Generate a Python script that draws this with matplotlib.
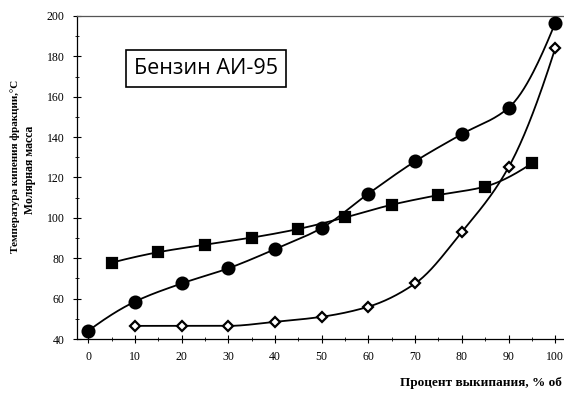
import numpy as np
import matplotlib.pyplot as plt
from matplotlib.ticker import MultipleLocator

# ── данные ────────────────────────────────────────────────
x_bp = [0, 10, 20, 30, 40, 50, 60, 70, 80, 90, 100]
t_bp = [44, 58.5, 67.5, 75, 84.5, 95, 112, 128, 141.5, 154.5, 196.5]

x_mm = [5, 15, 25, 35, 45, 55, 65, 75, 85, 95]
m_mm = [77.8, 83, 86.7, 90.2, 94.5, 100.2, 106.5, 111.3, 115.5, 127]

x_dm = [10, 20, 30, 40, 50, 60, 70, 80, 90, 100]
y_dm = [46.5, 46.5, 46.5, 48.5, 51, 56, 67.5, 93, 125, 184]

x_ticks = list(range(0, 101, 10))
y_ticks = list(range(40, 201, 20))

SERIF = ['Liberation Serif', 'DejaVu Serif']


def smooth(xs, ys, n=300):
    """Монотонный кубический (PCHIP) сплайн через точки — для плавной линии."""
    xs = np.asarray(xs, float)
    ys = np.asarray(ys, float)
    h = np.diff(xs)
    d = np.diff(ys) / h
    m = np.zeros_like(ys)
    for i in range(1, len(xs) - 1):
        if d[i - 1] * d[i] > 0:
            w1 = 2 * h[i] + h[i - 1]
            w2 = h[i] + 2 * h[i - 1]
            m[i] = (w1 + w2) / (w1 / d[i - 1] + w2 / d[i])
    m[0] = ((2 * h[0] + h[1]) * d[0] - h[0] * d[1]) / (h[0] + h[1])
    m[-1] = ((2 * h[-1] + h[-2]) * d[-1] - h[-1] * d[-2]) / (h[-1] + h[-2])
    gx = np.linspace(xs[0], xs[-1], n)
    j = np.clip(np.searchsorted(xs, gx) - 1, 0, len(xs) - 2)
    t = (gx - xs[j]) / h[j]
    h00 = 2 * t ** 3 - 3 * t ** 2 + 1
    h10 = t ** 3 - 2 * t ** 2 + t
    h01 = -2 * t ** 3 + 3 * t ** 2
    h11 = t ** 3 - t ** 2
    gy = (h00 * ys[j] + h10 * h[j] * m[j]
          + h01 * ys[j + 1] + h11 * h[j] * m[j + 1])
    return gx, gy


fig = plt.figure(figsize=(5.64, 4.0), dpi=100)
ax = fig.add_axes([0.1365, 0.1525, 0.862, 0.8075])

lw = 1.3
for xs, ys, mk, ms, fc in [(x_bp, t_bp, 'o', 8.5, 'black'),
                           (x_mm, m_mm, 's', 7.8, 'black'),
                           (x_dm, y_dm, 'D', 5.5, 'white')]:
    sx, sy = smooth(xs, ys)
    ax.plot(sx, sy, color='black', lw=lw, zorder=2)
    ax.plot(xs, ys, linestyle='none', marker=mk, markersize=ms,
            markerfacecolor=fc, markeredgecolor='black',
            markeredgewidth=1.6, zorder=3)

ax.set_xlim(-2.4, 101.7)
ax.set_ylim(40, 200)
ax.set_xticks(x_ticks)
ax.set_yticks(y_ticks)
ax.xaxis.set_minor_locator(MultipleLocator(5))
ax.yaxis.set_minor_locator(MultipleLocator(10))
ax.tick_params(which='major', direction='inout', length=6, width=0.8,
               labelsize=8.5, pad=6)
ax.tick_params(which='minor', direction='inout', length=3, width=0.6)
for lbl in ax.get_xticklabels() + ax.get_yticklabels():
    lbl.set_fontfamily(SERIF)

ax.spines['right'].set_visible(False)
for s in ('left', 'bottom', 'top'):
    ax.spines[s].set_linewidth(0.9)
ax.spines['top'].set_color('#555555')

# подписи осей
fig.text(0.027, 0.585, 'Температура кипения фракции,°С', rotation=90,
         ha='center', va='center', fontsize=8, fontweight='bold',
         family=SERIF)
fig.text(0.054, 0.575, 'Молярная масса', rotation=90,
         ha='center', va='center', fontsize=8.5, fontweight='bold',
         family=SERIF)
fig.text(0.997, 0.043, 'Процент выкипания, % об', ha='right', va='center',
         fontsize=9.5, fontweight='bold', family=SERIF)

# заголовок в рамке
ax.text(0.266, 0.837, 'Бензин АИ-95', transform=ax.transAxes,
        ha='center', va='center', fontsize=15.5, family='Open Sans',
        bbox=dict(boxstyle='square,pad=0.38', facecolor='white',
                  edgecolor='black', linewidth=1.2))

fig.savefig('out.png', dpi=100)
